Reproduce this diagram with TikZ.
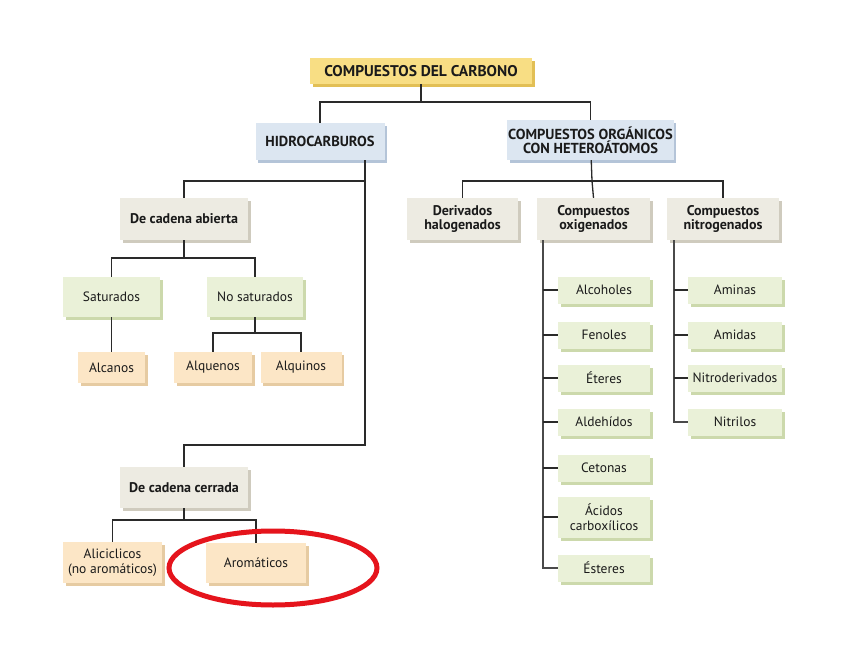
\documentclass[tikz,border=0pt]{standalone}
\usepackage{fontspec}
\setmainfont{PT Sans}
\usetikzlibrary{shadows}
\definecolor{yelF}{HTML}{F8DE84}\definecolor{yelS}{HTML}{E2BF55}
\definecolor{bluF}{HTML}{DCE6F1}\definecolor{bluS}{HTML}{B4C4D8}
\definecolor{begF}{HTML}{EDEBE2}\definecolor{begS}{HTML}{CFCBBE}
\definecolor{grnF}{HTML}{EAF1D8}\definecolor{grnS}{HTML}{CCD9AC}
\definecolor{pchF}{HTML}{FCE6C6}\definecolor{pchS}{HTML}{E6CBA2}
\definecolor{txt}{HTML}{1A1A1A}
\definecolor{lin}{HTML}{2A2A2A}
\definecolor{ring}{HTML}{E5141C}
\tikzset{
  basebox/.style={inner sep=1pt, align=center, text=txt, font=\fontsize{13.5}{14.5}\selectfont},
  yelbox/.style={basebox, fill=yelF, drop shadow={shadow xshift=2.5pt, shadow yshift=-3pt, fill=yelS, opacity=1}, font=\bfseries\fontsize{15.5}{16}\selectfont},
  blubox/.style={basebox, fill=bluF, drop shadow={shadow xshift=2.5pt, shadow yshift=-3pt, fill=bluS, opacity=1}, font=\bfseries\fontsize{14.5}{14}\selectfont},
  begbox/.style={basebox, fill=begF, drop shadow={shadow xshift=2.5pt, shadow yshift=-3pt, fill=begS, opacity=1}, font=\bfseries\fontsize{14}{14.5}\selectfont},
  grnbox/.style={basebox, fill=grnF, drop shadow={shadow xshift=2.5pt, shadow yshift=-3pt, fill=grnS, opacity=1}},
  pchbox/.style={basebox, fill=pchF, drop shadow={shadow xshift=2.5pt, shadow yshift=-3pt, fill=pchS, opacity=1}},
  conn/.style={draw=lin, line width=1.3pt},
  spine/.style={draw=lin!85, line width=2pt},
}
\begin{document}
\begin{tikzpicture}[x=1pt,y=-1pt]
\useasboundingbox (0,0) rectangle (848,655);
\fill[white] (0,0) rectangle (848,655);
% top level
\node[yelbox, minimum width=222, minimum height=26] (top) at (421,71) {COMPUESTOS DEL CARBONO};
\node[blubox, minimum width=129, minimum height=37] (hidro) at (320,141.5) {HIDROCARBUROS};
\node[blubox, minimum width=165, minimum height=40] (hetero) at (590.5,140) {COMPUESTOS ORGÁNICOS\\CON HETEROÁTOMOS};
% hydrocarbons
\node[begbox, minimum width=128, minimum height=42] (cab) at (184,219) {De cadena abierta};
\node[grnbox, minimum width=97, minimum height=40] (sat) at (111.5,297) {Saturados};
\node[grnbox, minimum width=96, minimum height=40] (nosat) at (255,297) {No saturados};
\node[pchbox, minimum width=67, minimum height=31] (alcanos) at (111.5,367.5) {Alcanos};
\node[pchbox, minimum width=78, minimum height=31] (alquenos) at (213,367.5) {Alquenos};
\node[pchbox, minimum width=81, minimum height=31] (alquinos) at (301,367.5) {Alquinos};
\node[begbox, minimum width=128, minimum height=41] (ccer) at (184,487.5) {De cadena cerrada};
\node[pchbox, minimum width=99, minimum height=41] (alic) at (112.5,562.5) {Aliciclicos\\(no aromáticos)};
\node[pchbox, minimum width=100, minimum height=40] (arom) at (256,563) {Aromáticos};
% heteroatoms
\node[begbox, minimum width=111, minimum height=42] (deriv) at (462.5,219) {Derivados\\halogenados};
\node[begbox, minimum width=113, minimum height=42] (oxig) at (593.5,219) {Compuestos\\oxigenados};
\node[begbox, minimum width=112, minimum height=42] (nitrog) at (723,219) {Compuestos\\nitrogenados};
\node[grnbox, minimum width=92, minimum height=27] (alcoh) at (604,290) {Alcoholes};
\node[grnbox, minimum width=92, minimum height=27] (fenol) at (604,335) {Fenoles};
\node[grnbox, minimum width=92, minimum height=27] (eter) at (604,378) {Éteres};
\node[grnbox, minimum width=92, minimum height=27] (aldeh) at (604,422) {Aldehídos};
\node[grnbox, minimum width=92, minimum height=27] (ceton) at (604,468) {Cetonas};
\node[grnbox, minimum width=92, minimum height=41] (acid) at (604,517) {Ácidos\\carboxílicos};
\node[grnbox, minimum width=92, minimum height=27] (ester) at (604,568) {Ésteres};
\node[grnbox, minimum width=94, minimum height=27] (amin) at (735,290) {Aminas};
\node[grnbox, minimum width=94, minimum height=27] (amid) at (735,335) {Amidas};
\node[grnbox, minimum width=94, minimum height=27] (nitro) at (735,378) {Nitroderivados};
\node[grnbox, minimum width=94, minimum height=27] (nitril) at (735,422) {Nitrilos};
% junction coordinates
\coordinate (j1) at (421,102);
\coordinate (h1) at (365,181);
\coordinate (h2) at (365,445);
\coordinate (j2) at (184,258);
\coordinate (j3) at (255,333);
\coordinate (j4) at (184,520);
\coordinate (j5) at (592,181);
\coordinate (os) at (543,0);
\coordinate (ns) at (674,0);
% connectors
\draw[conn] (top) -- (j1);
\draw[conn] (hidro.north) |- (j1) -| (hetero.north);
\draw[conn] (hidro.south -| h1) -- (h2) -| (ccer.north);
\draw[conn] (h1) -| (cab.north);
\draw[conn] (cab) -- (j2);
\draw[conn] (sat.north) |- (j2) -| (nosat.north);
\draw[conn] (sat) -- (alcanos);
\draw[conn] (nosat) -- (j3);
\draw[conn] (alquenos.north) |- (j3) -| (alquinos.north);
\draw[conn] (ccer) -- (j4);
\draw[conn] (alic.north) |- (j4) -| (arom.north);
\draw[conn] (hetero) -- (j5);
\draw[conn] (deriv.north) |- (j5) -| (nitrog.north);
\draw[conn] (j5) -- (oxig.north);
% oxygen spine
\draw[spine] (oxig.south -| os) -- (ester.west -| os) -- (ester.west);
\foreach \n in {alcoh,fenol,eter,aldeh,ceton,acid}
  \draw[conn] (\n.west -| os) -- (\n.west);
% nitrogen spine
\draw[spine] (nitrog.south -| ns) -- (nitril.west -| ns) -- (nitril.west);
\foreach \n in {amin,amid,nitro}
  \draw[conn] (\n.west -| ns) -- (\n.west);
% highlight
\draw[ring, line width=5pt] (273,568) ellipse [x radius=104, y radius=37];
\end{tikzpicture}
\end{document}
